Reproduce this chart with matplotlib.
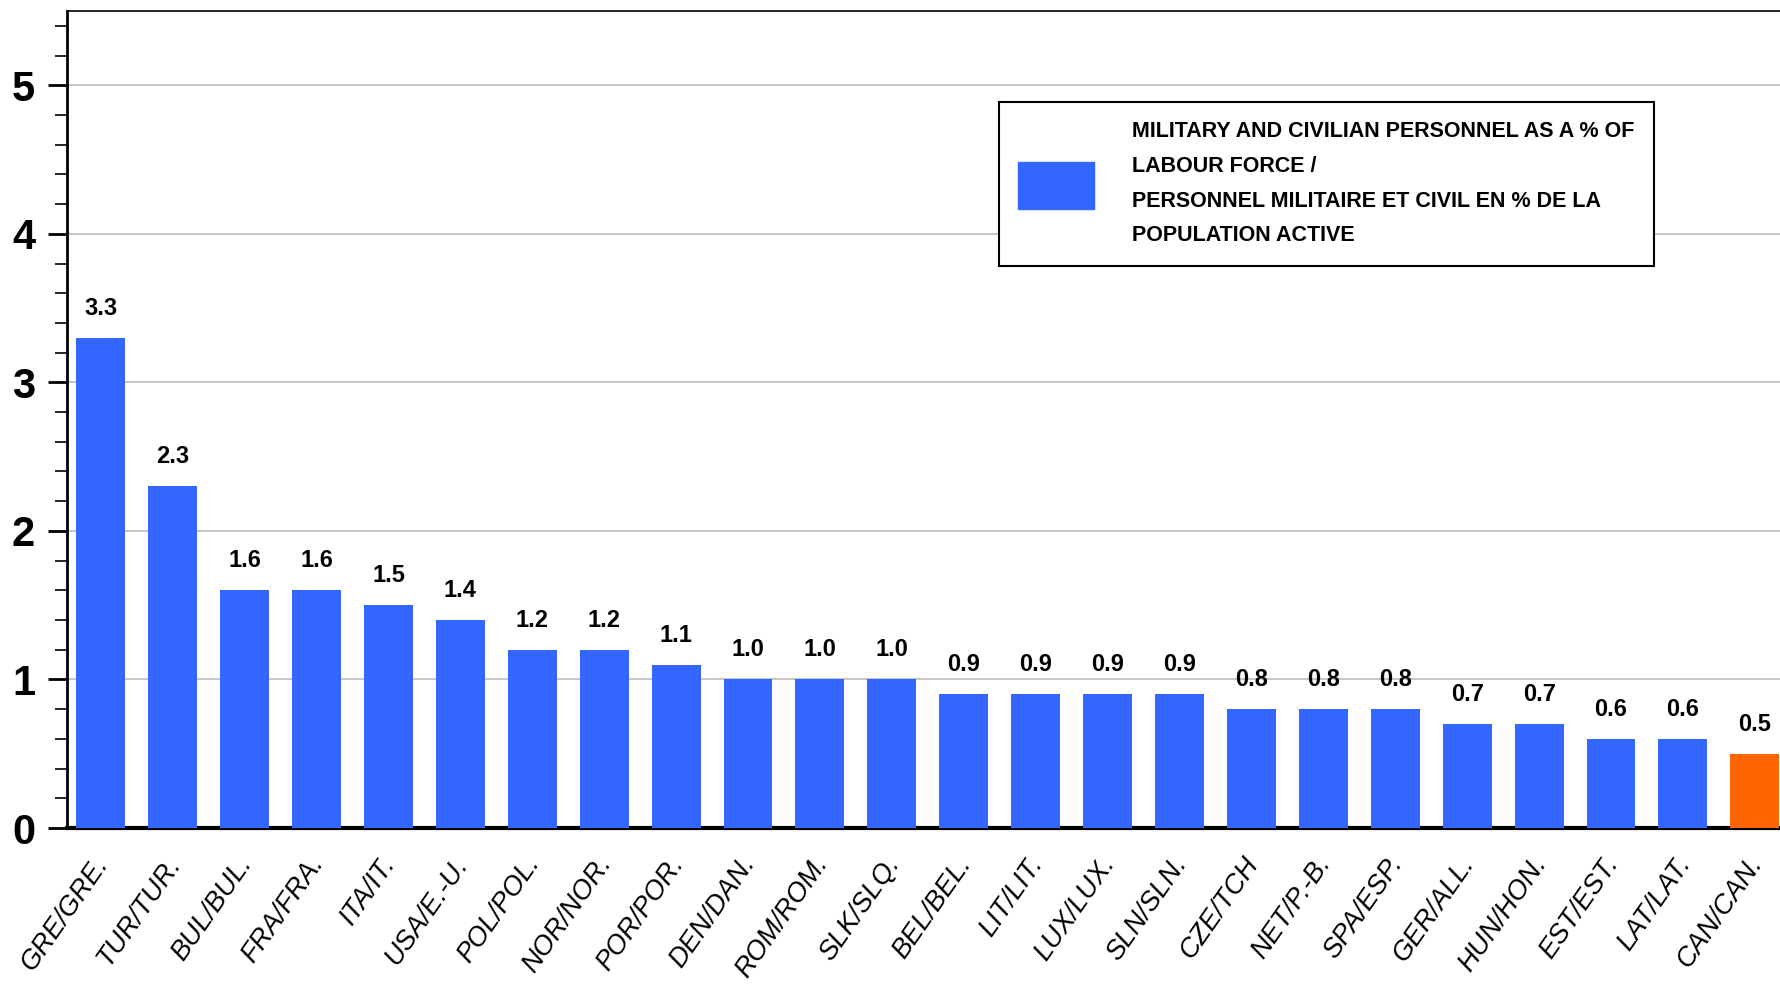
import numpy as np
import matplotlib.pyplot as plt
from matplotlib.patches import Patch
from matplotlib.ticker import MultipleLocator
from matplotlib.transforms import ScaledTranslation

plt.rcParams['font.family'] = ['Liberation Sans', 'DejaVu Sans']

countries = ['GRE/GRE.', 'TUR/TUR.', 'BUL/BUL.', 'FRA/FRA.', 'ITA/IT.', 'USA/E.-U.',
             'POL/POL.', 'NOR/NOR.', 'POR/POR.', 'DEN/DAN.', 'ROM/ROM.', 'SLK/SLQ.',
             'BEL/BEL.', 'LIT/LIT.', 'LUX/LUX.', 'SLN/SLN.', 'CZE/TCH', 'NET/P.-B.',
             'SPA/ESP.', 'GER/ALL.', 'HUN/HON.', 'EST/EST.', 'LAT/LAT.', 'CAN/CAN.']
values = [3.3, 2.3, 1.6, 1.6, 1.5, 1.4, 1.2, 1.2, 1.1, 1.0, 1.0, 1.0,
          0.9, 0.9, 0.9, 0.9, 0.8, 0.8, 0.8, 0.7, 0.7, 0.6, 0.6, 0.5]
highlight = 'CAN/CAN.'

blue = '#3366FF'
orange = '#FF6600'
colors = [orange if c == highlight else blue for c in countries]

fig = plt.figure(figsize=(17.8, 9.84), dpi=100)
ax = fig.add_axes([67 / 1780, 1 - 828 / 984, 1 - 67 / 1780, (828 - 11) / 984])

x = np.arange(len(countries))
bars = ax.bar(x, values, width=0.68, color=colors, zorder=3)

for xi, v in zip(x, values):
    ax.annotate(f'{v:.1f}', (xi, v), xytext=(0, 13), textcoords='offset points',
                ha='center', va='bottom', fontsize=17, fontweight='bold')

ax.set_xlim(-0.47, 23.35)
ax.set_ylim(0, 5.5)
ax.yaxis.set_major_locator(MultipleLocator(1))
ax.yaxis.set_minor_locator(MultipleLocator(0.2))
ax.yaxis.grid(True, which='major', color='#c0c0c0', linewidth=1.3, zorder=0)
ax.set_axisbelow(True)

ax.tick_params(axis='y', which='major', length=14, width=2, direction='out', pad=9,
               labelsize=30)
ax.tick_params(axis='y', which='minor', length=9, width=1.2, direction='out')
for lab in ax.get_yticklabels():
    lab.set_fontweight('bold')

ax.set_xticks(x)
ax.set_xticklabels(countries, rotation=55, ha='right', va='top',
                   rotation_mode='anchor', fontsize=19.5, fontstyle='italic')
ax.tick_params(axis='x', length=0, pad=17)
shift = ScaledTranslation(-6 / 72, 0, fig.dpi_scale_trans)
for lab in ax.get_xticklabels():
    lab.set_transform(lab.get_transform() + shift)

ax.spines['right'].set_visible(False)
ax.spines['left'].set_linewidth(2)
ax.spines['top'].set_linewidth(1.2)
ax.spines['bottom'].set_linewidth(3)

handle = Patch(facecolor=blue, edgecolor=blue)
label = ('MILITARY AND CIVILIAN PERSONNEL AS A % OF\nLABOUR FORCE /\n'
         'PERSONNEL MILITAIRE ET CIVIL EN % DE LA\nPOPULATION ACTIVE')
leg = ax.legend([handle], [label], loc='upper left',
                bbox_to_anchor=(999 / 1780, 1 - 102 / 984), bbox_transform=fig.transFigure,
                borderaxespad=0, prop={'size': 15.5, 'weight': 'bold'},
                handlelength=3.5, handleheight=3.0, handletextpad=1.8,
                borderpad=0.9, fancybox=False, framealpha=1)
leg.get_frame().set_edgecolor('black')
leg.get_frame().set_linewidth(1.5)
for t in leg.get_texts():
    t.set_linespacing(1.85)

fig.savefig('out.png', dpi=100)
